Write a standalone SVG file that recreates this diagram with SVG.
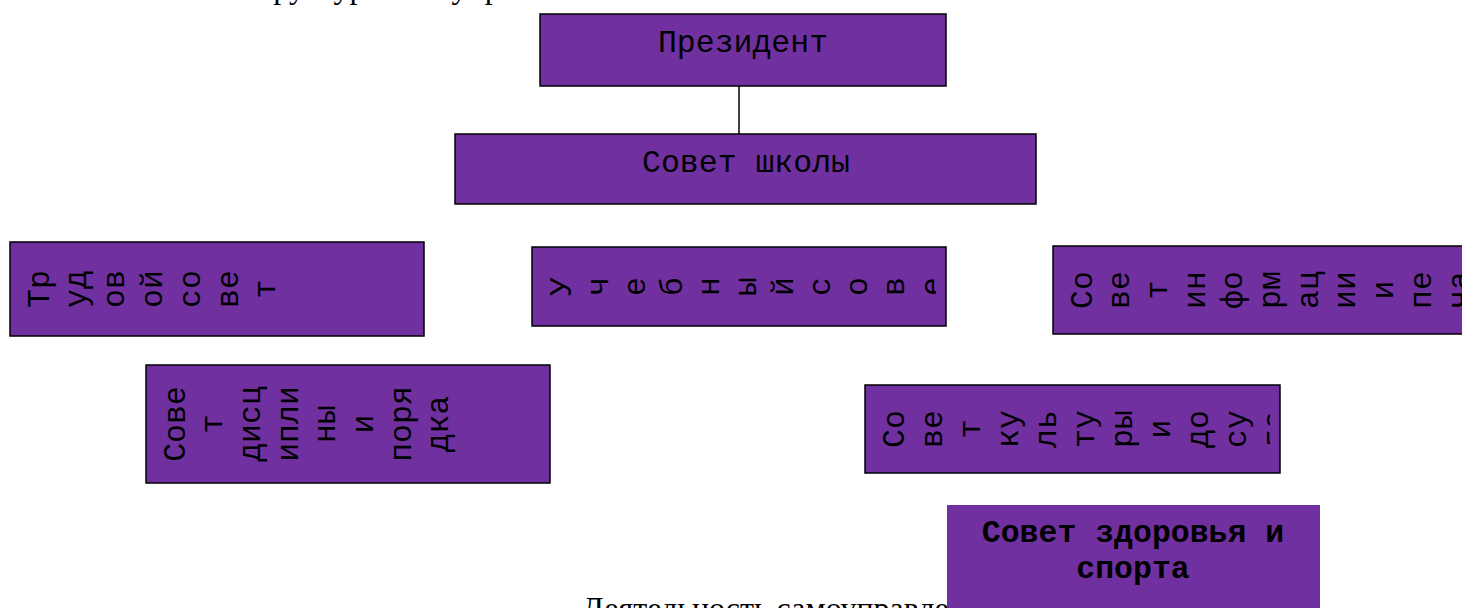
<svg xmlns="http://www.w3.org/2000/svg" width="1462" height="608" viewBox="0 0 1462 608">
<style>
.box{fill:#7030A0;stroke:#000;stroke-width:1.5}
.box6{fill:#7030A0;stroke:none}
.t{font-family:"Liberation Mono","Courier New",monospace;font-size:31.5px;fill:#000}
.tc{text-anchor:middle}
.tb{font-family:"Liberation Mono","Courier New",monospace;font-size:31.5px;font-weight:bold;fill:#000;text-anchor:middle}
.serif{font-family:"Liberation Serif","Times New Roman",serif;font-size:32px;fill:#000}
.conn{stroke:#000;stroke-width:1.5;fill:none}
</style>
<defs>
<clipPath id="c2"><rect x="532" y="247" width="404" height="79"/></clipPath>
<clipPath id="c5"><rect x="865" y="385" width="405" height="88"/></clipPath>
</defs>
<rect width="1462" height="608" fill="#fff"/>
<text class="serif" x="238" y="-2">Структура самоуправления</text>
<text class="serif" x="582" y="619">Деятельность самоуправления</text>
<g id="connectors">
<line class="conn" x1="739" y1="86" x2="739" y2="134"/>
</g>
<g id="president">
<rect class="box" x="540" y="14" width="406" height="72"/>
<text class="t tc" x="743" y="52">Президент</text>
</g>
<g id="school-council">
<rect class="box" x="455" y="134" width="581" height="70"/>
<text class="t tc" x="746" y="172">Совет школы</text>
</g>
<g id="labour-council">
<rect class="box" x="10" y="242" width="414" height="94"/>
<g class="t tc">
<text transform="translate(48.5,289) rotate(-90)">Тр</text>
<text transform="translate(86.3,289) rotate(-90)">уд</text>
<text transform="translate(124.1,289) rotate(-90)">ов</text>
<text transform="translate(161.9,289) rotate(-90)">ой</text>
<text transform="translate(199.7,289) rotate(-90)">со</text>
<text transform="translate(237.5,289) rotate(-90)">ве</text>
<text transform="translate(275.3,289) rotate(-90)">т</text>
</g>
</g>
<g id="study-council">
<rect class="box" x="532" y="247" width="414" height="79"/>
<g class="t tc" clip-path="url(#c2)">
<text transform="translate(570.5,286.5) rotate(-90)">У</text>
<text transform="translate(607.6,286.5) rotate(-90)">ч</text>
<text transform="translate(644.7,286.5) rotate(-90)">е</text>
<text transform="translate(681.8,286.5) rotate(-90)">б</text>
<text transform="translate(718.9,286.5) rotate(-90)">н</text>
<text transform="translate(756,286.5) rotate(-90)">ы</text>
<text transform="translate(793.1,286.5) rotate(-90)">й</text>
<text transform="translate(830.2,286.5) rotate(-90)">с</text>
<text transform="translate(867.3,286.5) rotate(-90)">о</text>
<text transform="translate(904.4,286.5) rotate(-90)">в</text>
<text transform="translate(941.5,286.5) rotate(-90)">е</text>
</g>
</g>
<g id="info-council">
<rect class="box" x="1053" y="246" width="414" height="88"/>
<g class="t tc">
<text transform="translate(1091.5,290) rotate(-90)">Со</text>
<text transform="translate(1129.2,290) rotate(-90)">ве</text>
<text transform="translate(1166.9,290) rotate(-90)">т</text>
<text transform="translate(1204.6,290) rotate(-90)">ин</text>
<text transform="translate(1242.3,290) rotate(-90)">фо</text>
<text transform="translate(1280,290) rotate(-90)">рм</text>
<text transform="translate(1317.7,290) rotate(-90)">ац</text>
<text transform="translate(1355.4,290) rotate(-90)">ии</text>
<text transform="translate(1393.1,290) rotate(-90)">и</text>
<text transform="translate(1430.8,290) rotate(-90)">пе</text>
<text transform="translate(1468.5,290) rotate(-90)">ча</text>
</g>
</g>
<g id="discipline-council">
<rect class="box" x="146" y="365" width="404" height="118"/>
<g class="t tc">
<text transform="translate(184.5,424) rotate(-90)">Сове</text>
<text transform="translate(222.2,424) rotate(-90)">т</text>
<text transform="translate(259.9,424) rotate(-90)">дисц</text>
<text transform="translate(297.6,424) rotate(-90)">ипли</text>
<text transform="translate(335.3,424) rotate(-90)">ны</text>
<text transform="translate(373,424) rotate(-90)">и</text>
<text transform="translate(410.7,424) rotate(-90)">поря</text>
<text transform="translate(448.4,424) rotate(-90)">дка</text>
</g>
</g>
<g id="culture-council">
<rect class="box" x="865" y="385" width="415" height="88"/>
<g class="t tc" clip-path="url(#c5)">
<text transform="translate(903.5,429) rotate(-90)">Со</text>
<text transform="translate(941.5,429) rotate(-90)">ве</text>
<text transform="translate(979.5,429) rotate(-90)">т</text>
<text transform="translate(1017.5,429) rotate(-90)">ку</text>
<text transform="translate(1055.5,429) rotate(-90)">ль</text>
<text transform="translate(1093.5,429) rotate(-90)">ту</text>
<text transform="translate(1131.5,429) rotate(-90)">ры</text>
<text transform="translate(1169.5,429) rotate(-90)">и</text>
<text transform="translate(1207.5,429) rotate(-90)">до</text>
<text transform="translate(1245.5,429) rotate(-90)">су</text>
<text transform="translate(1283.5,429) rotate(-90)">га</text>
</g>
</g>
<g id="health-council">
<rect class="box6" x="947" y="505" width="373" height="110"/>
<text class="tb" x="1133" y="542">Совет здоровья и</text>
<text class="tb" x="1133" y="578">спорта</text>
</g>
</svg>
